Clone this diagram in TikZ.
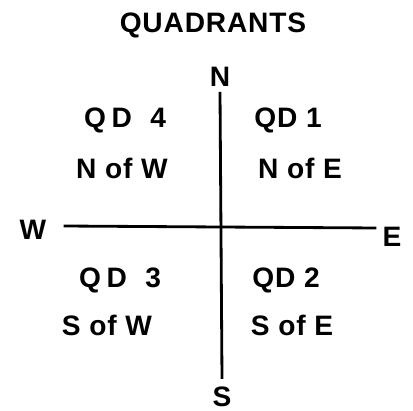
\documentclass[tikz,border=0pt]{standalone}
\usepackage{fontspec}
\setmainfont{Liberation Sans}[LetterSpace=3]
\usetikzlibrary{positioning}
\tikzset{
  label/.style={font=\fontsize{20}{24}\selectfont\bfseries, inner sep=0pt},
  axis/.style={line width=2pt}
}
\begin{document}
\begin{tikzpicture}[x=0.025cm, y=-0.025cm]
        \useasboundingbox (0,0) rectangle (413,411);
        \node (title) [label] at (213,25) {QUADRANTS};

        % Compass points
        \node (n) [label] at (220,77) {N};
        \node (s) [label] at (222,397) {S};
        \node (w) [label] at (33,230) {W};
        \node (e) [label] at (392,237) {E};

        % Quadrant labels
        \node (qd4) [label] at (125,120) {Q\kern4pt D\kern7pt\ 4};
        \node (nw) [label] at (122,168) {N of W};
        \node (qd1) [label] at (288,120) {QD 1};
        \node (ne) [label] at (300,168) {N of E};
        \node (qd3) [label] at (120,280) {Q\kern4pt D\kern7pt\ 3};
        \node (sw) [label] at (107,325) {S of W};
        \node (qd2) [label] at (286,280) {QD 2};
        \node (se) [label] at (292,325) {S of E};

        % Axes
        \path (n.south) ++(0,5) coordinate (ntop) (s.north) ++(0,-8) coordinate (sbot);
        \path (w.east) ++(17,-4) coordinate (wend) (e.west) ++(-6,-9) coordinate (eend);
        \draw [axis] (ntop) -- (sbot);
        \draw [axis] (wend) -- (eend);
    \end{tikzpicture}
\end{document}
